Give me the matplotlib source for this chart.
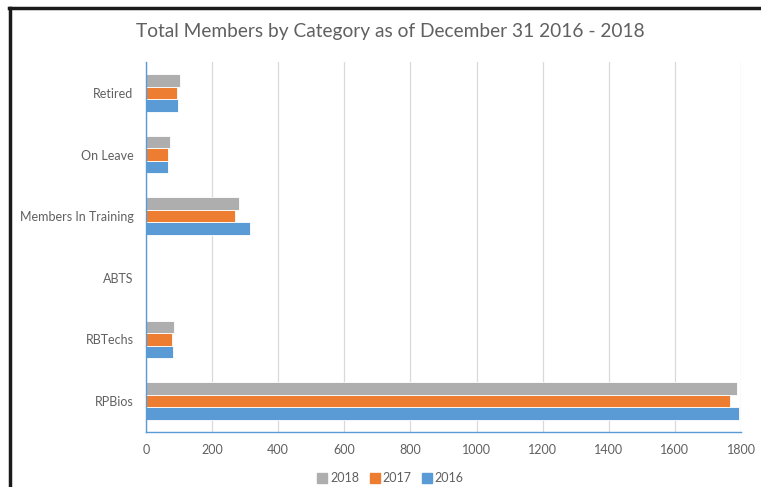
import matplotlib
matplotlib.use("Agg")
import matplotlib.pyplot as plt
import numpy as np
from matplotlib.lines import Line2D

categories = ["RPBios", "RBTechs", "ABTS", "Members In Training", "On Leave", "Retired"]
v2016 = [1794, 83, 0, 315, 67, 96]
v2017 = [1768, 79, 0, 270, 68, 94]
v2018 = [1789, 86, 0, 280, 72, 103]
years = ["2018", "2017", "2016"]
colors = {"2016": "#5b9bd5", "2017": "#ed7d31", "2018": "#aeaeae"}
xticks = list(range(0, 1801, 200))

plt.rcParams['font.family'] = ['Lato', 'DejaVu Sans']
txt = "#606060"

fig = plt.figure(figsize=(7.61, 4.87), dpi=100)
ax = fig.add_axes([146/761, 1-432/487, (741-146)/761, (432-62)/487])

y = np.arange(len(categories))
h = 0.205
ax.barh(y - h, v2016, height=h, color=colors["2016"], edgecolor="white", linewidth=0.6, zorder=3)
ax.barh(y, v2017, height=h, color=colors["2017"], edgecolor="white", linewidth=0.6, zorder=3)
ax.barh(y + h, v2018, height=h, color=colors["2018"], edgecolor="white", linewidth=0.6, zorder=3)

ax.set_xlim(0, 1800)
ax.set_ylim(-0.5, len(categories) - 0.5)
ax.set_xticks(xticks)
ax.set_yticks(y)
ax.set_yticklabels(categories)
ax.tick_params(axis='both', length=0, colors=txt, labelsize=9)
ax.tick_params(axis='x', pad=9)
ax.tick_params(axis='y', pad=9)
ax.grid(axis='x', color="#d9d9d9", linewidth=0.9, zorder=0)
for s in ["top", "right"]:
    ax.spines[s].set_visible(False)
for s in ["left", "bottom"]:
    ax.spines[s].set_color("#5b9bd5")
    ax.spines[s].set_linewidth(1.0)
    ax.spines[s].set_zorder(4)

fig.text(390/761, 1-31/487, "Total Members by Category as of December 31 2016 - 2018",
         ha="center", va="center", fontsize=13.8, color=txt)

handles = [Line2D([], [], marker="s", linestyle="none", markersize=7,
                  markerfacecolor=colors[yr], markeredgecolor=colors[yr]) for yr in years]
fig.legend(handles, years, loc="center", bbox_to_anchor=(390/761, 1-478/487), ncol=3,
           frameon=False, fontsize=9, labelcolor=txt, handletextpad=0.15,
           columnspacing=0.7, handlelength=1.0)

fig.add_artist(Line2D([10/761, 10/761], [0, 1-7.5/487], color="#1a1a1a", linewidth=2.5,
                      transform=fig.transFigure))
fig.add_artist(Line2D([9/761, 1], [1-7.5/487, 1-7.5/487], color="#1a1a1a", linewidth=2.5,
                      transform=fig.transFigure))

fig.savefig("out.png", dpi=100)
